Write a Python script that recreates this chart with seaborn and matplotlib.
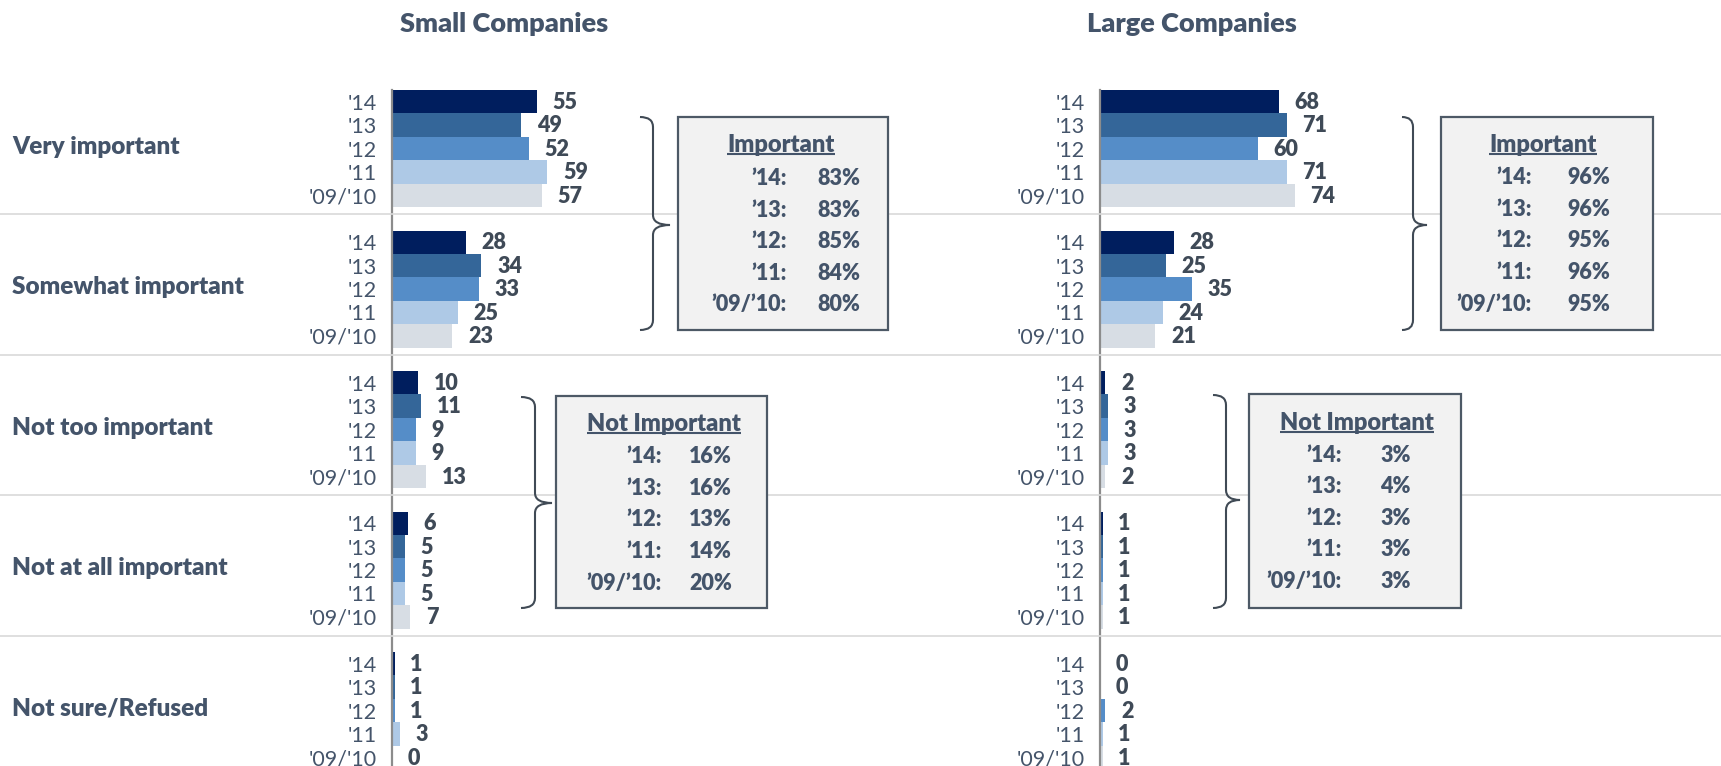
import matplotlib
matplotlib.use("Agg")
import matplotlib.pyplot as plt
from matplotlib.patches import Rectangle, PathPatch
from matplotlib.path import Path
import seaborn as sns
import pandas as pd

sns.set_style("white")
plt.rcParams["font.family"] = ["Lato", "DejaVu Sans"]

# ---------------- data ----------------
categories = ["Very important", "Somewhat important", "Not too important",
              "Not at all important", "Not sure/Refused"]
years = ["'14", "'13", "'12", "'11", "'09/'10"]

small_14 = [55, 28, 10, 6, 1]
small_13 = [49, 34, 11, 5, 1]
small_12 = [52, 33, 9, 5, 1]
small_11 = [59, 25, 9, 5, 3]
small_0910 = [57, 23, 13, 7, 0]

large_14 = [68, 28, 2, 1, 0]
large_13 = [71, 25, 3, 1, 0]
large_12 = [60, 35, 3, 1, 2]
large_11 = [71, 24, 3, 1, 1]
large_0910 = [74, 21, 2, 1, 1]

box_years = ["\u201914:", "\u201913:", "\u201912:", "\u201911:", "\u201909/\u201910:"]
small_important = [83, 83, 85, 84, 80]
small_not_important = [16, 16, 13, 14, 20]
large_important = [96, 96, 95, 96, 95]
large_not_important = [3, 4, 3, 3, 3]

colors = ["#001E5E", "#346699", "#558DC8", "#AEC9E6", "#D7DDE4"]
palette = dict(zip(years, colors))
TEXT = "#44546A"
BOLD = "heavy"

W, H = 1721, 766
fig = plt.figure(figsize=(W / 100, H / 100), dpi=100)
fig.patch.set_facecolor("white")

SLOT = 140.5 / 6.0          # pixel height of one bar slot
TOP = 90                    # pixel row of the first bar's top edge


def long_frame(series):
    rows = []
    for i, (yr, vals) in enumerate(zip(years, series)):
        for g, v in enumerate(vals):
            rows.append({"pos": g * 6 + i, "value": v, "year": yr})
    return pd.DataFrame(rows)


def make_panel(left_px, series):
    width_px = 263
    ax = fig.add_axes([left_px / W, 0, width_px / W, (H - TOP) / H])
    df = long_frame(series)
    sns.barplot(data=df, x="value", y="pos", hue="year", hue_order=years,
                palette=palette, orient="h", native_scale=True, dodge=False,
                width=1, saturation=1, errorbar=None, linewidth=0,
                legend=False, ax=ax)
    ax.set_xlim(0, 100)
    ax.set_ylim((H - TOP) / SLOT - 0.5, -0.5)
    ax.set_facecolor("none")
    for s in ["top", "right", "bottom"]:
        ax.spines[s].set_visible(False)
    ax.spines["left"].set_color("#8C8C8C")
    ax.spines["left"].set_linewidth(1.6)
    ax.set_xticks([])
    ticks = [g * 6 + i for g in range(len(categories)) for i in range(len(years))]
    ax.set_yticks(ticks)
    ax.set_yticklabels([years[i] for g in range(len(categories)) for i in range(len(years))],
                       fontsize=15.5, color=TEXT)
    ax.tick_params(axis="y", length=0, pad=10.8)
    ax.set_xlabel("")
    ax.set_ylabel("")
    for _, r in df.iterrows():
        ax.annotate(f"{int(r['value'])}", (r["value"], r["pos"]),
                    xytext=(11.3, -0.5), textcoords="offset points",
                    ha="left", va="center", fontsize=15.5, fontweight=BOLD,
                    color="#3F4A57")
    return ax


make_panel(392, [small_14, small_13, small_12, small_11, small_0910])
make_panel(1100, [large_14, large_13, large_12, large_11, large_0910])

# ---------------- overlay in pixel coordinates ----------------
ov = fig.add_axes([0, 0, 1, 1], zorder=5)
ov.set_xlim(0, W)
ov.set_ylim(H, 0)
ov.axis("off")

# group separators
for y in [214, 354.5, 495, 635.5]:
    ov.plot([0, W], [y, y], color="#D9D9D9", lw=1.2, zorder=1,
            solid_capstyle="butt")

# panel titles
ov.text(504, 32, "Small Companies", ha="center", va="baseline",
        fontsize=19.5, fontweight=BOLD, color=TEXT)
ov.text(1192, 32, "Large Companies", ha="center", va="baseline",
        fontsize=19.5, fontweight=BOLD, color=TEXT)

# category labels
for g, cat in enumerate(categories):
    yc = TOP + (g * 6 + 2.5) * SLOT
    ov.text(12, yc + 5, cat, ha="left", va="baseline", fontsize=17.5,
            fontweight=BOLD, color=TEXT)


def brace(x_hook, x_v, x_tip, y_top, y_bot, y_mid, r=10):
    verts = [(x_hook, y_top), (x_v, y_top), (x_v, y_top + r),
             (x_v, y_mid - r), (x_v, y_mid), (x_tip, y_mid),
             (x_v, y_mid), (x_v, y_mid + r),
             (x_v, y_bot - r), (x_v, y_bot), (x_hook, y_bot)]
    codes = [Path.MOVETO, Path.CURVE3, Path.CURVE3,
             Path.LINETO, Path.CURVE3, Path.CURVE3,
             Path.CURVE3, Path.CURVE3,
             Path.LINETO, Path.CURVE3, Path.CURVE3]
    ov.add_patch(PathPatch(Path(verts, codes), fill=False, edgecolor="#404A55",
                           lw=1.5, zorder=3))


underlines = []


def summary_box(x0, y0, x1, y1, title, title_x, title_base, lab_x, val_x,
                row_base, row_step, values):
    ov.add_patch(Rectangle((x0, y0), x1 - x0, y1 - y0, facecolor="#F2F2F2",
                           edgecolor="#4D5966", lw=1.6, zorder=3))
    t = ov.text(title_x, title_base, title, ha="center", va="baseline",
                fontsize=17, fontweight=BOLD, color=TEXT, zorder=4)
    underlines.append((t, title_base + 2.4))
    for k, (lab, v) in enumerate(zip(box_years, values)):
        yb = row_base + k * row_step
        ov.text(lab_x, yb, lab, ha="right", va="baseline", fontsize=15.5,
                fontweight=BOLD, color=TEXT, zorder=4)
        ov.text(val_x, yb, f"{v}%", ha="right", va="baseline", fontsize=15.5,
                fontweight=BOLD, color=TEXT, zorder=4)


brace(640, 653, 670, 117, 330, 225)
summary_box(678, 117, 888, 330, "Important", 781, 151.7, 787, 860,
            185, 31.6, small_important)

brace(521, 535, 552, 397, 608, 503)
summary_box(556, 396, 767, 608, "Not Important", 664, 430.7, 662, 732,
            463, 31.75, small_not_important)

brace(1402, 1413, 1427, 117, 330, 225)
summary_box(1441, 117, 1653, 330, "Important", 1543, 151.7, 1532, 1610,
            184, 31.7, large_important)

brace(1213, 1226, 1240, 395, 608, 500)
summary_box(1249, 394, 1461, 608, "Not Important", 1357, 430, 1342, 1411,
            461.7, 31.6, large_not_important)

# underline the box headings
fig.canvas.draw()
renderer = fig.canvas.get_renderer()
inv = ov.transData.inverted()
for t, yu in underlines:
    bb = t.get_window_extent(renderer)
    xa, _ = inv.transform((bb.x0, bb.y0))
    xb, _ = inv.transform((bb.x1, bb.y0))
    ov.plot([xa, xb], [yu, yu], color=TEXT, lw=1.5, zorder=4,
            solid_capstyle="butt")

fig.savefig("out.png", dpi=100, facecolor="white")
